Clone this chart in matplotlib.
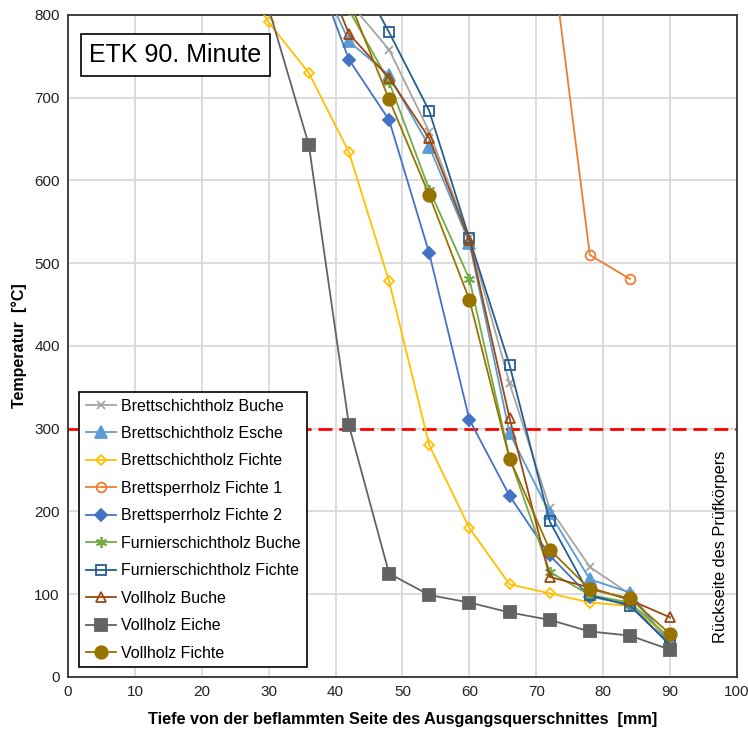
import matplotlib.pyplot as plt
import numpy as np

plt.rcParams['font.family'] = ['Liberation Sans', 'DejaVu Sans']

# depth [mm] and temperatures [°C]
depth = [24, 30, 36, 42, 48, 54, 60, 66, 72, 78, 84, 90]
nan = np.nan

bsh_buche   = [nan, nan, nan, 816, 758, 659, 530, 355, 204, 133, 100, 38]
bsh_esche   = [nan, nan, 875, 768, 727, 641, 525, 295, 198, 118, 102, 40]
bsh_fichte  = [870, 791, 730, 634, 478, 280, 180, 112, 101, 90, 86, 47]
bsp_fichte1 = [nan, nan, nan, nan, nan, nan, nan, nan, 895, 510, 481, nan]
bsp_fichte2 = [nan, nan, 876, 746, 673, 512, 311, 219, 147, 97, 88, 38]
fsh_buche   = [nan, nan, nan, 806, 719, 589, 481, 265, 127, 99, 90, 47]
fsh_fichte  = [nan, nan, nan, 869, 779, 684, 530, 377, 188, 99, 86, 39]
vh_buche    = [nan, nan, 898, 777, 724, 651, 528, 313, 121, 108, 93, 72]
vh_eiche    = [nan, 808, 643, 304, 125, 99, 90, 78, 69, 55, 50, 33]
vh_fichte   = [nan, nan, nan, 818, 698, 582, 456, 264, 154, 106, 95, 52]

series = [
    ('Brettschichtholz Buche', bsh_buche, '#A5A5A5', 'x', 6, 'full'),
    ('Brettschichtholz Esche', bsh_esche, '#5B9BD5', '^', 8, 'full'),
    ('Brettschichtholz Fichte', bsh_fichte, '#FFC000', 'D', 5, 'none'),
    ('Brettsperrholz Fichte 1', bsp_fichte1, '#ED7D31', 'o', 7, 'none'),
    ('Brettsperrholz Fichte 2', bsp_fichte2, '#4472C4', 'D', 6, 'full'),
    ('Furnierschichtholz Buche', fsh_buche, '#70AD47', (6, 2, 0), 8, 'full'),
    ('Furnierschichtholz Fichte', fsh_fichte, '#255E91', 's', 7, 'none'),
    ('Vollholz Buche', vh_buche, '#9E480E', '^', 7, 'none'),
    ('Vollholz Eiche', vh_eiche, '#636363', 's', 8, 'full'),
    ('Vollholz Fichte', vh_fichte, '#997300', 'o', 9, 'full'),
]

fig = plt.figure(figsize=(7.48, 7.31), dpi=100)
ax = fig.add_axes([0.0909, 0.0739, 0.8944, 0.9056])

for label, vals, col, mk, ms, fill in series:
    ax.plot(depth, vals, color=col, lw=1.3, marker=mk, markersize=ms,
            fillstyle=fill, markeredgecolor=col, markeredgewidth=1.3,
            markerfacecolor=(col if fill == 'full' else 'white'),
            label=label, zorder=3)

ax.axhline(300, color='#FF0000', lw=2, dashes=(5, 2.5), zorder=2)

ax.set_xlim(0, 100)
ax.set_ylim(0, 800)
ax.set_xticks(np.arange(0, 101, 10))
ax.set_yticks(np.arange(0, 801, 100))
ax.grid(True, color='#D9D9D9', lw=1.3)
ax.set_axisbelow(True)
ax.tick_params(length=0, labelsize=11, colors='#222222', pad=6)
for s in ax.spines.values():
    s.set_color('#333333')
    s.set_linewidth(1.3)

ax.set_xlabel('Tiefe von der beflammten Seite des Ausgangsquerschnittes  [mm]',
              fontsize=11.7, fontweight='bold', labelpad=9)
ax.set_ylabel('Temperatur  [°C]', fontsize=11.5, fontweight='bold', labelpad=5)

ax.text(0.032, 0.958, 'ETK 90. Minute', transform=ax.transAxes, fontsize=18,
        va='top', ha='left', zorder=5,
        bbox=dict(boxstyle='square,pad=0.35', facecolor='white',
                  edgecolor='black', lw=1.2))

ax.text(0.975, 0.051, 'Rückseite des Prüfkörpers', transform=ax.transAxes,
        rotation=90, fontsize=11.8, ha='center', va='bottom')

leg = ax.legend(loc='lower left', bbox_to_anchor=(0.017, 0.015), fontsize=11.5,
                frameon=True, fancybox=False, edgecolor='black', framealpha=1,
                handlelength=1.9, handletextpad=0.3, labelspacing=0.78,
                borderpad=0.4, borderaxespad=0)
leg.get_frame().set_linewidth(1.2)
leg.set_zorder(6)

fig.savefig('out.png', dpi=100)
